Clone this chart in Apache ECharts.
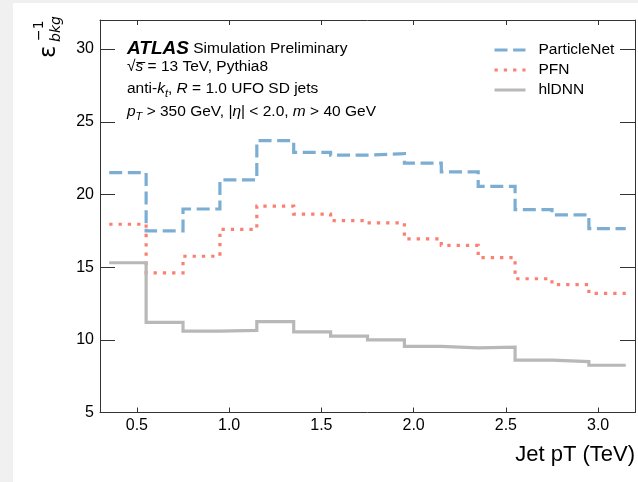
<!DOCTYPE html>
<html><head><meta charset="utf-8">
<script src="https://cdn.jsdelivr.net/npm/echarts@6/dist/echarts.min.js"></script>
<style>
html,body{margin:0;padding:0;background:#f0f0f0;width:638px;height:482px;overflow:hidden}
#c{position:absolute;left:13px;top:3px;width:625px;height:479px;background:#fff}
</style></head><body><div id="c"></div>
<script>
const binEdges = [0.35,0.55,0.75,0.95,1.15,1.35,1.55,1.75,1.95,2.15,2.35,2.55,2.75,2.95,3.15];
const particleNet = [21.5,17.5,19.0,21.0,23.7,22.9,22.7,22.8,22.15,21.55,20.55,18.95,18.6,17.65];
const pfn = [17.95,14.6,15.75,17.6,19.2,18.65,18.2,18.05,16.95,16.5,15.65,14.2,13.8,13.2];
const hldnn = [15.3,11.2,10.6,10.65,11.25,10.55,10.25,10.0,9.55,9.45,9.5,8.6,8.5,8.25];
const seriesNames = ['ParticleNet','PFN','hlDNN'];
const xTicks = [0.5,1.0,1.5,2.0,2.5,3.0];
const yTicks = [5,10,15,20,25,30];

const FONT = 'Liberation Sans';
const mk = vals => binEdges.map((e,i)=>[e, vals[Math.min(i, vals.length-1)]]);
const chart = echarts.init(document.getElementById('c'), null, {renderer:'canvas'});
const axisCol = '#333';
const baseNorm = {fontFamily:FONT,fontSize:15.5,color:'#000',lineHeight:20};
const rich = {
  n: baseNorm,
  i: Object.assign({}, baseNorm, {fontStyle:'italic'}),
  s: {fontFamily:FONT,fontSize:11,fontStyle:'italic',color:'#000',lineHeight:12,verticalAlign:'bottom'},
  b: {fontFamily:FONT,fontSize:19,fontWeight:'bold',fontStyle:'italic',color:'#000',lineHeight:20}
};
function txt(x,y,text){
  return {type:'text',x:x,y:y,silent:true,style:{text:text,rich:rich,align:'left',verticalAlign:'middle',fill:'#000',font:'15.5px '+FONT}};
}
const LW = 3.2;
const option = {
  animation:false,
  backgroundColor:'transparent',
  grid:{left:87,top:17,right:2.4,bottom:69.5,containLabel:false},
  legend:{
    orient:'vertical', left:480, top:39, padding:0, itemWidth:31, itemHeight:14, itemGap:4,
    selectedMode:false,
    itemStyle:{opacity:0},
    lineStyle:{width:3},
    textStyle:{fontFamily:FONT,fontSize:15.5,color:'#000',lineHeight:14,padding:[0,0,0,8]},
    data:seriesNames
  },
  xAxis:[{
    type:'value', min:0.3, max:3.2, position:'bottom',
    axisLine:{show:true,onZero:false,lineStyle:{color:axisCol,width:1}},
    axisTick:{show:true,inside:true,length:5,customValues:xTicks,lineStyle:{color:axisCol}},
    axisLabel:{customValues:xTicks,formatter:v=>Number(v).toFixed(1),fontFamily:FONT,fontSize:16,color:'#000',margin:5},
    splitLine:{show:false},
    name:'Jet pT (TeV)', nameLocation:'end', nameGap:0,
    nameTextStyle:{fontFamily:FONT,fontSize:22,color:'#000',align:'right',verticalAlign:'top',padding:[31,0,0,0]}
  },{
    type:'value', min:0.3, max:3.2, position:'top',
    axisLine:{show:true,onZero:false,lineStyle:{color:axisCol,width:1}},
    axisTick:{show:true,inside:true,length:5,customValues:xTicks,lineStyle:{color:axisCol}},
    axisLabel:{show:false}, splitLine:{show:false}
  }],
  yAxis:[{
    type:'value', min:5, max:32, position:'left',
    axisLine:{show:true,onZero:false,lineStyle:{color:axisCol,width:1}},
    axisTick:{show:true,inside:true,length:15,customValues:yTicks,lineStyle:{color:axisCol}},
    axisLabel:{customValues:yTicks,fontFamily:FONT,fontSize:16,color:'#000',margin:6},
    splitLine:{show:false}
  },{
    type:'value', min:5, max:32, position:'right',
    axisLine:{show:true,onZero:false,lineStyle:{color:axisCol,width:1}},
    axisTick:{show:true,inside:true,length:15,customValues:yTicks,lineStyle:{color:axisCol}},
    axisLabel:{show:false}, splitLine:{show:false}
  }],
  series:[
    {name:seriesNames[0],type:'line',step:'end',symbol:'none',data:mk(particleNet),
     lineStyle:{color:'#7caed4',width:LW,type:[13,5.6],cap:'butt',join:'miter'},itemStyle:{color:'#7caed4'}},
    {name:seriesNames[1],type:'line',step:'end',symbol:'none',data:mk(pfn),
     lineStyle:{color:'#fa8072',width:LW,type:[3.3,6],cap:'butt',join:'miter'},itemStyle:{color:'#fa8072'}},
    {name:seriesNames[2],type:'line',step:'end',symbol:'none',data:mk(hldnn),
     lineStyle:{color:'#b8b8b8',width:LW,type:'solid',cap:'butt',join:'miter'},itemStyle:{color:'#b8b8b8'}}
  ],
  graphic:[
    txt(114,46,'{b|ATLAS} {n|Simulation Preliminary}'),
    txt(114,64,'{n|\u221A}{i|s\u0305}{n| = 13 TeV, Pythia8}'),
    txt(114,86,'{n|anti-}{i|k}{s|t}{n|, }{i|R}{n| = 1.0 UFO SD jets}'),
    txt(114,109,'{i|p}{s|T}{n| > 350 GeV, |}{i|\u03B7}{n|| < 2.0, }{i|m}{n| > 40 GeV}'),
    {type:'text',x:36,y:55,rotation:Math.PI/2,silent:true,style:{text:'\u03B5',font:'23px "DejaVu Sans"',fill:'#000',align:'left',verticalAlign:'middle'}},
    {type:'text',x:43,y:39,rotation:Math.PI/2,silent:true,style:{text:'bkg',font:'italic 14px "DejaVu Sans"',fill:'#000',align:'left',verticalAlign:'middle'}},
    {type:'text',x:26,y:38,rotation:Math.PI/2,silent:true,style:{text:'\u22121',font:'14px "DejaVu Sans"',fill:'#000',align:'left',verticalAlign:'middle'}}
  ]
};
chart.setOption(option);
</script></body></html>
